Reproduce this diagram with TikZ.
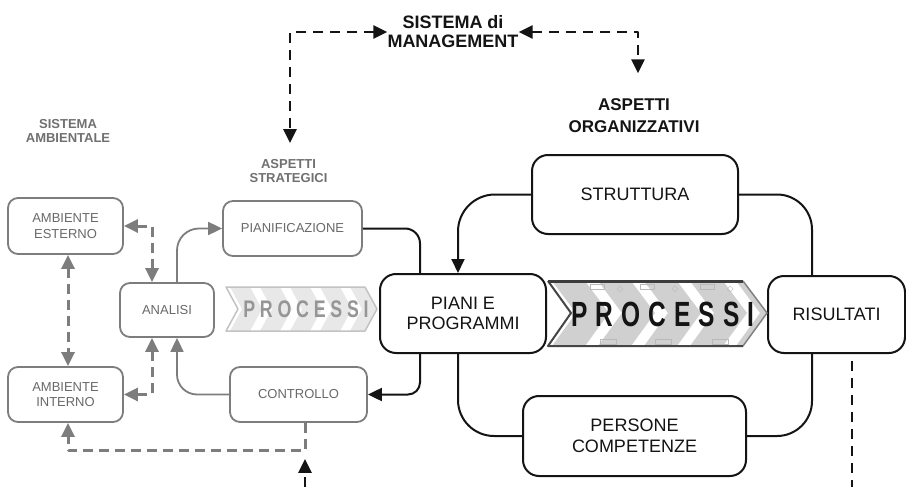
\documentclass[tikz,border=0pt]{standalone}
\usepackage{fontspec}
\setmainfont{Liberation Sans}
\newfontfamily\procbigfont{Liberation Sans}[FakeStretch=0.7,LetterSpace=23]
\newfontfamily\procsmallfont{Liberation Sans}[FakeStretch=0.74,LetterSpace=20]
\usetikzlibrary{arrows.meta,calc}

\definecolor{gline}{RGB}{125,125,125}
\definecolor{gtext}{RGB}{105,105,105}
\definecolor{glabel}{RGB}{112,112,112}
\definecolor{bline}{RGB}{20,20,20}
\definecolor{chevbig}{RGB}{208,208,208}
\definecolor{chevsmall}{RGB}{232,232,232}

\tikzset{
  gbox/.style={draw=gline, line width=1.8pt, rounded corners=10pt, text=gtext,
    font=\fontsize{13}{15.5}\selectfont, align=center, inner sep=0pt},
  bbox/.style={draw=bline, line width=2pt, rounded corners=16pt, text=bline,
    font=\fontsize{18}{20.5}\selectfont, align=center, inner sep=0pt},
  glabelstyle/.style={text=glabel, font=\bfseries\fontsize{13}{14}\selectfont,
    align=center, inner sep=0pt},
  blabelstyle/.style={text=bline, font=\bfseries\fontsize{18}{19}\selectfont,
    align=center, inner sep=0pt},
  tipg/.style={-{Triangle[length=14pt,width=13pt]}},
  tipgg/.style={{Triangle[length=14pt,width=13pt]}-{Triangle[length=14pt,width=13pt]}},
  gsolid/.style={draw=gline, line width=1.8pt},
  bsolid/.style={draw=bline, line width=2pt},
  gdash/.style={draw=gline, line width=3pt, dash pattern=on 10pt off 6pt},
  bdash/.style={draw=bline, line width=2.8pt, dash pattern=on 10pt off 7pt},
}

\begin{document}
\begin{tikzpicture}[x=1pt,y=-1pt,line join=round]
\fill[white] (0,0) rectangle (906,487);
\useasboundingbox (0,0) rectangle (906,487);

% ---------- labels ----------
\node[blabelstyle] (mgmt) at (453,32) {SISTEMA di\\MANAGEMENT};
\node[blabelstyle, font=\bfseries\fontsize{17}{22}\selectfont] (org) at (634,115.5) {ASPETTI\\ORGANIZZATIVI};
\node[glabelstyle] (amblab) at (68,130.5) {SISTEMA\\AMBIENTALE};
\node[glabelstyle] (strat) at (288.5,171.4) {ASPETTI\\STRATEGICI};

% ---------- environment / strategic boxes ----------
\node[gbox, minimum width=115pt, minimum height=56pt] (ambest) at (65.5,226) {AMBIENTE\\ESTERNO};
\node[gbox, minimum width=115pt, minimum height=55pt] (ambint) at (65.5,394.5) {AMBIENTE\\INTERNO};
\node[gbox, minimum width=94pt, minimum height=54pt] (analisi) at (167,310) {ANALISI};
\node[gbox, minimum width=139pt, minimum height=55pt] (pianif) at (292.5,228.5) {PIANIFICAZIONE};
\node[gbox, minimum width=137pt, minimum height=55pt] (controllo) at (298.5,394.5) {CONTROLLO};

% ---------- organisational boxes ----------
\node[bbox, minimum width=166pt, minimum height=79pt] (piani) at (463,313.5) {PIANI E\\PROGRAMMI};
\node[bbox, minimum width=137pt, minimum height=77pt] (risultati) at (836.5,314.5) {RISULTATI};
\node[bbox, minimum width=206pt, minimum height=79pt] (struttura) at (635,194.5) {STRUTTURA};
\node[bbox, minimum width=223pt, minimum height=80pt] (persone) at (634.5,436) {PERSONE\\COMPETENZE};

% ---------- small process arrow ----------
\begin{scope}
  \path[clip] (226,287) -- (365,287) -- (377,309) -- (365,331) -- (226,331) -- (238,309) -- cycle;
  \foreach \cx in {230,260,290,320,350}
    \fill[chevsmall] (\cx,287) -- (\cx+20,287) -- (\cx+32,309) -- (\cx+20,331) -- (\cx,331) -- (\cx+12,309) -- cycle;
\end{scope}
\draw[draw={rgb,255:red,195;green,195;blue,195}, line width=1.5pt]
  (226,287) -- (365,287) -- (377,309) -- (365,331) -- (226,331) -- (238,309) -- cycle;
\node[inner sep=0pt, text={rgb,255:red,150;green,150;blue,150},
  font=\procsmallfont\bfseries\fontsize{24}{24}\selectfont] (procsmall) at (306,309) {PROCESSI};

% ---------- large process arrow ----------
\begin{scope}
  \path[clip] (548,281) -- (743,281) -- (767,313) -- (743,346) -- (548,346) -- (571,313) -- cycle;
  \foreach \cx in {552,598,644,690,736}
    \fill[chevbig] (\cx,281) -- (\cx+33,281) -- (\cx+57,313) -- (\cx+33,346) -- (\cx,346) -- (\cx+24,313) -- cycle;
  % faint flow-chart sketch in the background
  \begin{scope}[draw={rgb,255:red,185;green,185;blue,185}, line width=0.35pt]
    \foreach \bx in {590,640,700}
      \draw (\bx,284) rectangle (\bx+14,289);
    \foreach \bx in {600,655,712}
      \draw (\bx,339) rectangle (\bx+16,344);
    \foreach \dx in {620,675,730}
      \draw (\dx,286) -- (\dx+3,289) -- (\dx,292) -- (\dx-3,289) -- cycle;
  \end{scope}
\end{scope}
\draw[draw={rgb,255:red,130;green,130;blue,130}, line width=1.5pt]
  (743,281) -- (767,313) -- (743,346);
\draw[draw={rgb,255:red,70;green,70;blue,70}, line width=2pt]
  (743,346) -- (548,346) -- (571,313) -- (548,281);
\draw[draw={rgb,255:red,60;green,60;blue,60}, line width=3pt] (548,281) -- (743,281);
\node[inner sep=0pt, text=bline,
  font=\procbigfont\bfseries\fontsize{35}{35}\selectfont] (procbig) at (663,314) {PROCESSI};

% ---------- management connectors ----------
\draw[bdash, tipgg] (mgmt.west) -| ($(strat.north)+(1.5,-16.5)$);
\draw[bdash, tipgg] (mgmt.east) -| ($(org.north)+(4,-25)$);

% ---------- strategic loop ----------
\draw[gsolid, tipg, rounded corners=22pt] ($(analisi.north)+(10,0)$) |- (pianif.west);
\draw[gsolid, tipg, rounded corners=20pt] (controllo.west) -| ($(analisi.south)+(10,0)$);
\draw[bsolid, rounded corners=15pt] (pianif.east) -| ($(piani.north)+(-43,0)$);
\draw[bsolid, tipg, rounded corners=12pt] ($(piani.south)+(-43,0)$) |- (controllo.east);

% ---------- environment links ----------
\draw[gdash, tipgg] (ambest.east) -| ($(analisi.north)+(-15,0)$);
\draw[gdash, tipgg] (ambint.east) -| ($(analisi.south)+(-15,0)$);
\draw[gdash, tipgg] ($(ambest.south)+(2.5,0)$) -- ($(ambint.north)+(2.5,0)$);
\draw[gdash, tipg] ($(controllo.south)+(6.5,0)$) -- ++(0,28) -| ($(ambint.south)+(2.5,0)$);

% ---------- organisational loop ----------
\draw[bsolid, tipg, rounded corners=37pt] (struttura.west) -| ($(piani.north)+(-5,0)$);
\draw[bsolid, rounded corners=35pt] (struttura.east) -| ($(risultati.north)+(-24.5,0)$);
\draw[bsolid, rounded corners=35pt] ($(risultati.south)+(-24.5,0)$) |- (persone.east);
\draw[bsolid, rounded corners=36pt] ($(piani.south)+(-5,0)$) |- (persone.west);

% ---------- open feedback ends ----------
\coordinate (feedin) at (305,487);
\coordinate (risout) at (852,487);
\draw[bdash, tipg] (feedin) -- ($(controllo.south)+(6.5,36)$);
\draw[bdash] ($(risultati.south)+(15.5,7)$) -- (risout);
\end{tikzpicture}
\end{document}
